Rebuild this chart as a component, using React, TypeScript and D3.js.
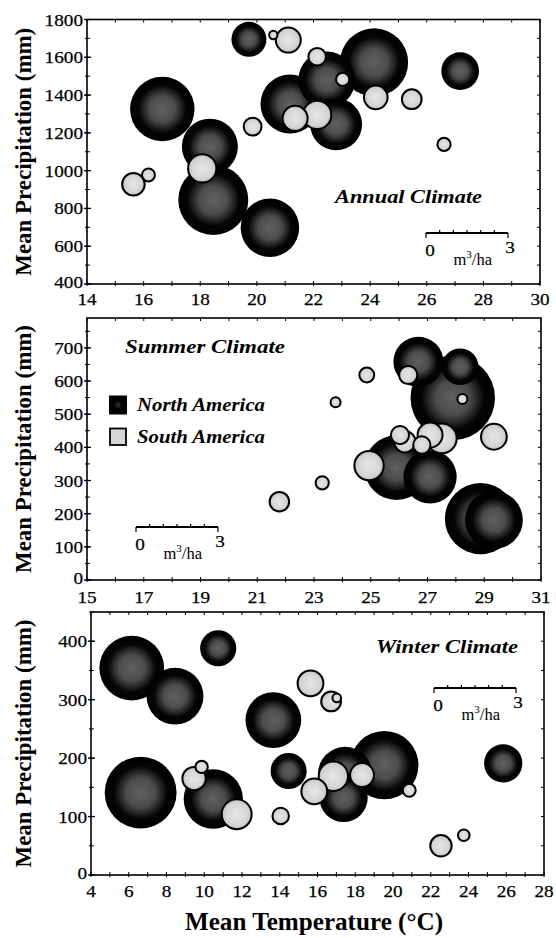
import React from 'react';
import * as d3 from 'd3';

// [temperature °C, precipitation mm, volume m3/ha]
const annualNorth: number[][] = [
  [16.66, 1326, 2.36], [18.34, 1127, 2.05], [18.46, 845, 2.56], [20.46, 698, 2.14],
  [19.72, 1695, 1.28], [21.17, 1353, 2.16], [22.47, 1480, 2.08], [22.8, 1245, 1.9],
  [24.14, 1573, 2.49], [27.18, 1527, 1.38],
];
const annualSouth: number[][] = [
  [15.64, 928, 0.89], [16.17, 977, 0.54], [18.07, 1012, 1.1], [19.85, 1233, 0.72],
  [20.58, 1718, 0.37], [21.11, 1691, 0.98], [22.13, 1603, 0.71], [21.35, 1277, 0.98],
  [22.13, 1295, 1.1], [23.03, 1483, 0.55], [24.2, 1388, 0.93], [25.47, 1378, 0.79],
  [26.61, 1139, 0.55],
];
const summerNorth: number[][] = [
  [26.68, 658, 1.83], [28.15, 643, 1.34], [27.89, 549, 3.09], [25.91, 339, 2.37],
  [27.09, 311, 1.95], [28.87, 185, 2.61], [29.34, 181, 2.12],
];
const summerSouth: number[][] = [
  [21.78, 236, 0.78], [23.29, 293, 0.55], [23.76, 536, 0.43], [24.86, 618, 0.61],
  [24.94, 345, 1.14], [26.32, 618, 0.73], [28.23, 546, 0.43], [29.34, 432, 1.01],
  [26.03, 437, 0.73], [26.2, 417, 0.85], [26.8, 407, 0.7], [27.09, 437, 0.98],
  [27.5, 427, 1.16],
];
const winterNorth: number[][] = [
  [6.16, 354, 2.37], [8.45, 306, 2.08], [10.74, 388, 1.32], [6.63, 141, 2.63],
  [10.48, 130, 2.17], [13.66, 265, 2.04], [14.47, 178, 1.32], [19.54, 188, 2.5],
  [17.46, 173, 1.98], [17.38, 132, 1.77], [25.84, 191, 1.4],
];
const winterSouth: number[][] = [
  [9.46, 165, 0.92], [9.86, 185, 0.52], [11.72, 104, 1.16], [14.05, 101, 0.67],
  [15.63, 328, 1.01], [16.72, 297, 0.79], [17.02, 303, 0.38], [15.83, 143, 1.01],
  [16.84, 169, 1.14], [18.36, 171, 0.94], [20.86, 145, 0.54], [22.54, 50, 0.85],
  [23.75, 68, 0.49],
];

const annualXTicks = [14, 16, 18, 20, 22, 24, 26, 28, 30];
const annualYTicks = [400, 600, 800, 1000, 1200, 1400, 1600, 1800];
const summerXTicks = [15, 17, 19, 21, 23, 25, 27, 29, 31];
const summerYTicks = [0, 100, 200, 300, 400, 500, 600, 700];
const winterXTicks = [4, 6, 8, 10, 12, 14, 16, 18, 20, 22, 24, 26, 28];
const winterYTicks = [0, 100, 200, 300, 400];

const panelTitles = ['Annual Climate', 'Summer Climate', 'Winter Climate'];
const legendLabels = ['North America', 'South America'];
const yTitle = 'Mean Precipitation (mm)';
const xTitle = 'Mean Temperature (°C)';

const SERIF = '"Liberation Serif", "Times New Roman", Times, serif';

type PanelCfg = {
  left: number; right: number; top: number; bottom: number;
  xDom: [number, number]; yDom: [number, number];
  xTicks: number[]; yTicks: number[]; xMinor: number; yMinor: number;
  north: number[][]; south: number[][];
  title: string; titleX: number; titleY: number; titleLen: number;
  bar: { x: number; y: number }; xLabOff: number;
};

const sizeScale = d3.scaleLinear().domain([0, 3]).range([0, 82]); // diameter

function TickText(props: any) {
  const { value, ...rest } = props;
  const s = String(value);
  return (
    <text {...rest} fontFamily={SERIF} fontSize={17.5} stroke="#000" strokeWidth={0.25}
      textLength={s.length * 9.6} lengthAdjust="spacingAndGlyphs">{s}</text>
  );
}

function Panel({ c, idx }: { c: PanelCfg; idx: number }) {
  const x = d3.scaleLinear().domain(c.xDom).range([c.left, c.right]);
  const y = d3.scaleLinear().domain(c.yDom).range([c.bottom, c.top]);
  const xMinorTicks = d3.range(c.xDom[0], c.xDom[1] + 0.001, c.xMinor);
  const yMinorTicks = d3.range(c.yDom[0], c.yDom[1] + 0.001, c.yMinor);
  const north = [...c.north].sort((a, b) => b[2] - a[2]);
  const south = [...c.south].sort((a, b) => b[2] - a[2]);
  const barLen = sizeScale(3);
  const barMinor = d3.range(0, 3.001, 0.5);
  const midY = (c.top + c.bottom) / 2;
  return (
    <g>
      {north.map((d, i) => (
        <circle key={'n' + i} cx={x(d[0])} cy={y(d[1])} r={sizeScale(d[2]) / 2}
          fill="url(#darkGrad)" />
      ))}
      {south.map((d, i) => (
        <circle key={'s' + i} cx={x(d[0])} cy={y(d[1])} r={sizeScale(d[2]) / 2 - 0.9}
          fill="url(#lightGrad)" stroke="#000" strokeWidth={2} />
      ))}
      <rect x={c.left} y={c.top} width={c.right - c.left} height={c.bottom - c.top}
        fill="none" stroke="#000" strokeWidth={1.6} />
      {xMinorTicks.map((t, i) => (
        <g key={'xm' + i}>
          <line x1={x(t)} x2={x(t)} y1={c.bottom - 3} y2={c.bottom + 2} stroke="#000" strokeWidth={1} />
          <line x1={x(t)} x2={x(t)} y1={c.top} y2={c.top + 3} stroke="#000" strokeWidth={1} />
        </g>
      ))}
      {yMinorTicks.map((t, i) => (
        <g key={'ym' + i}>
          <line x1={c.left - 2} x2={c.left + 3} y1={y(t)} y2={y(t)} stroke="#000" strokeWidth={1} />
          <line x1={c.right - 3} x2={c.right} y1={y(t)} y2={y(t)} stroke="#000" strokeWidth={1} />
        </g>
      ))}
      {c.xTicks.map((t) => (
        <TickText key={'xl' + t} value={t} x={x(t)} y={c.bottom + c.xLabOff} textAnchor="middle" />
      ))}
      {c.yTicks.map((t) => (
        <g key={'yl' + t}>
          <line x1={c.left - 3} x2={c.left + 4} y1={y(t)} y2={y(t)} stroke="#000" strokeWidth={1.3} />
          <TickText value={t} x={c.left - 4} y={y(t) + (t === c.yDom[0] ? 3.5 : 6)} textAnchor="end" />
        </g>
      ))}
      <text transform={`translate(31,${midY}) rotate(-90)`} textAnchor="middle"
        fontFamily={SERIF} fontWeight="bold" fontSize={23}
        textLength={248} lengthAdjust="spacingAndGlyphs">{yTitle}</text>
      <text x={c.titleX} y={c.titleY} fontFamily={SERIF} fontWeight="bold" fontStyle="italic"
        fontSize={19.5} textLength={c.titleLen} lengthAdjust="spacingAndGlyphs">{c.title}</text>
      {/* size scale bar */}
      <g transform={`translate(${c.bar.x},${c.bar.y})`}>
        <line x1={0} x2={barLen} y1={0} y2={0} stroke="#000" strokeWidth={2} />
        {barMinor.map((v, i) => (
          <line key={'b' + i} x1={sizeScale(v)} x2={sizeScale(v)}
            y1={v === 0 || v === 3 ? 5 : -3} y2={0} stroke="#000" strokeWidth={1.2} />
        ))}
        <TickText value={0} x={4} y={23} textAnchor="middle" />
        <TickText value={3} x={barLen + 2} y={20} textAnchor="middle" />
        <text x={barLen * 0.57} y={32} textAnchor="middle" fontFamily={SERIF} fontSize={16.5}>
          m<tspan dy={-7} fontSize={11}>3</tspan><tspan dy={7}>/ha</tspan>
        </text>
      </g>
      {idx === 1 && (
        <g>
          <rect x={109.5} y={396} width={17} height={18} fill="url(#darkGrad2)" stroke="#000" strokeWidth={1} />
          <rect x={110} y={428.5} width={16} height={16.5} fill="#d6d6d6" stroke="#000" strokeWidth={1.8} />
          <text x={137} y={411} fontFamily={SERIF} fontWeight="bold" fontStyle="italic" fontSize={18}
            textLength={128} lengthAdjust="spacingAndGlyphs">{legendLabels[0]}</text>
          <text x={137} y={443} fontFamily={SERIF} fontWeight="bold" fontStyle="italic" fontSize={18}
            textLength={128} lengthAdjust="spacingAndGlyphs">{legendLabels[1]}</text>
        </g>
      )}
    </g>
  );
}

export default function App() {
  const panels: PanelCfg[] = [
    {
      left: 87, right: 540, top: 19.5, bottom: 284, xDom: [14, 30], yDom: [400, 1800],
      xTicks: annualXTicks, yTicks: annualYTicks, xMinor: 1, yMinor: 100,
      north: annualNorth, south: annualSouth, title: panelTitles[0],
      titleX: 335, titleY: 203, titleLen: 147, bar: { x: 426, y: 233 }, xLabOff: 21,
    },
    {
      left: 87, right: 541, top: 318, bottom: 580, xDom: [15, 31], yDom: [0, 790],
      xTicks: summerXTicks, yTicks: summerYTicks, xMinor: 1, yMinor: 50,
      north: summerNorth, south: summerSouth, title: panelTitles[1],
      titleX: 125, titleY: 353, titleLen: 160, bar: { x: 136, y: 527 }, xLabOff: 23,
    },
    {
      left: 91, right: 544, top: 612, bottom: 875, xDom: [4, 28], yDom: [0, 450],
      xTicks: winterXTicks, yTicks: winterYTicks, xMinor: 1, yMinor: 50,
      north: winterNorth, south: winterSouth, title: panelTitles[2],
      titleX: 376, titleY: 653, titleLen: 142, bar: { x: 434, y: 688 }, xLabOff: 22,
    },
  ];
  return (
    <svg width={556} height={938} style={{ position: 'absolute', left: 0, top: 0, background: '#fff' }}>
      <defs>
        <radialGradient id="darkGrad" cx="50%" cy="50%" r="50%">
          <stop offset="0%" stopColor="#606060" />
          <stop offset="40%" stopColor="#4c4c4c" />
          <stop offset="62%" stopColor="#1e1e1e" />
          <stop offset="74%" stopColor="#050505" />
          <stop offset="100%" stopColor="#000" />
        </radialGradient>
        <radialGradient id="darkGrad2" cx="50%" cy="50%" r="50%">
          <stop offset="0%" stopColor="#333" />
          <stop offset="50%" stopColor="#000" />
          <stop offset="100%" stopColor="#000" />
        </radialGradient>
        <radialGradient id="lightGrad" cx="50%" cy="50%" r="50%">
          <stop offset="0%" stopColor="#e6e6e6" />
          <stop offset="70%" stopColor="#d6d6d6" />
          <stop offset="100%" stopColor="#c2c2c2" />
        </radialGradient>
      </defs>
      <rect x={0} y={0} width={556} height={938} fill="#fff" />
      {panels.map((p, i) => <Panel key={i} c={p} idx={i} />)}
      <text x={314} y={930} textAnchor="middle" fontFamily={SERIF} fontWeight="bold" fontSize={25}
        textLength={258} lengthAdjust="spacingAndGlyphs">{xTitle}</text>
    </svg>
  );
}
